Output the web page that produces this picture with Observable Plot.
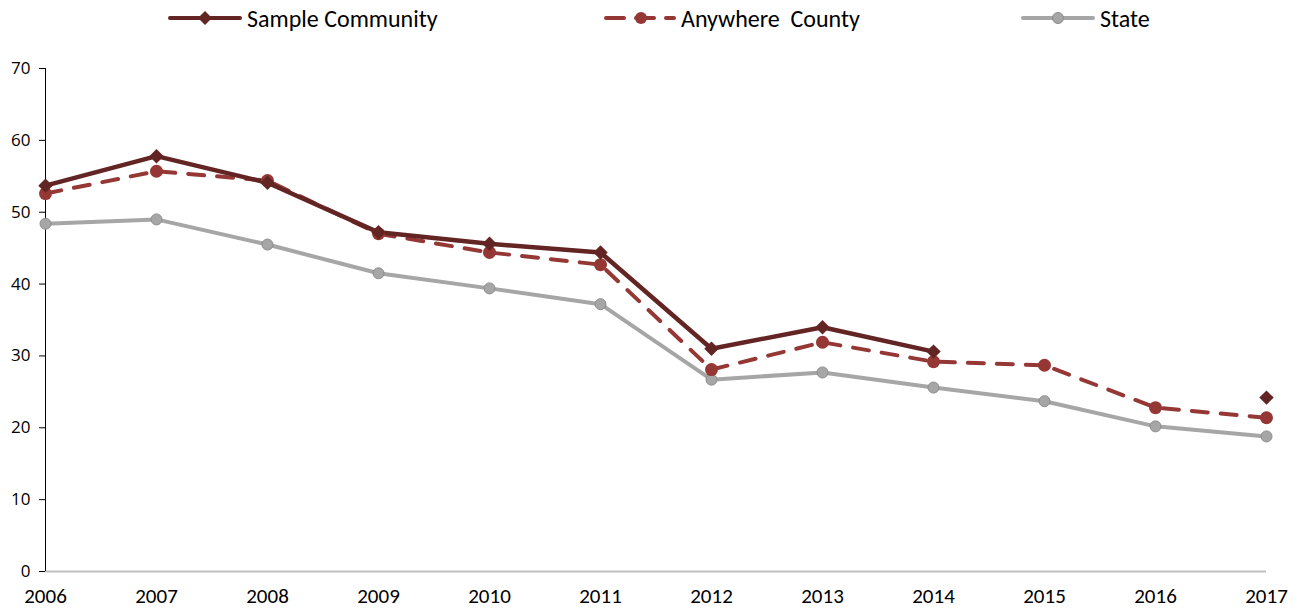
<!DOCTYPE html>
<html>
<head>
<meta charset="utf-8">
<script src="https://cdn.jsdelivr.net/npm/d3@7"></script>
<script src="https://cdn.jsdelivr.net/npm/@observablehq/plot@0.6"></script>
<style>
  html, body { margin: 0; padding: 0; background: #fff; }
  body { width: 1298px; height: 611px; overflow: hidden; font-family: Carlito, "Liberation Sans Narrow", "Open Sans", sans-serif; }
  #legend { position: relative; height: 40px; width: 1298px; }
  .item { position: absolute; top: 0; height: 36px; display: flex; align-items: center; font-size: 24px; color: #000; white-space: pre; }
  .item svg { margin-right: 5px; }
  .yax text { font-family: "Open Sans", sans-serif; }
</style>
</head>
<body>
<div id="legend"></div>
<div id="chart"></div>
<script>
const years = [2006, 2007, 2008, 2009, 2010, 2011, 2012, 2013, 2014, 2015, 2016, 2017];
const sampleCommunity = [53.7, 57.8, 54.1, 47.2, 45.6, 44.4, 31.0, 34.0, 30.6, null, null, 24.2];
const anywhereCounty  = [52.6, 55.7, 54.4, 47.0, 44.4, 42.7, 28.1, 31.9, 29.2, 28.7, 22.8, 21.4];
const state           = [48.4, 49.0, 45.5, 41.5, 39.4, 37.2, 26.7, 27.7, 25.6, 23.7, 20.2, 18.8];
const seriesNames = ["Sample Community", "Anywhere  County", "State"];
const yTicks = [0, 10, 20, 30, 40, 50, 60, 70];

const colors = {community: "#632523", county: "#953735", state: "#a6a6a6"};

const rows = (vals) => years.map((y, i) => ({year: y, value: vals[i] == null ? NaN : vals[i]}));
const comm = rows(sampleCommunity);
const cnty = rows(anywhereCounty);
const st = rows(state);

// Legend
const legend = document.getElementById("legend");
const legendItems = [
  {name: seriesNames[0], left: 168, kind: "community"},
  {name: seriesNames[1], left: 602, kind: "county"},
  {name: seriesNames[2], left: 1021, kind: "state"}
];
for (const it of legendItems) {
  const div = document.createElement("div");
  div.className = "item";
  div.style.left = it.left + "px";
  let sw = "";
  if (it.kind === "community") {
    sw = `<svg width="74" height="20"><line x1="2" y1="10" x2="72" y2="10" stroke="${colors.community}" stroke-width="4" stroke-linecap="round"/><path d="M37,3 L44,10 L37,17 L30,10 Z" fill="${colors.community}"/></svg>`;
  } else if (it.kind === "county") {
    sw = `<svg width="74" height="20"><line x1="4" y1="10" x2="72" y2="10" stroke="${colors.county}" stroke-width="4" stroke-dasharray="18,12" stroke-linecap="round"/><circle cx="39" cy="10" r="6" fill="${colors.county}"/></svg>`;
  } else {
    sw = `<svg width="74" height="20"><line x1="2" y1="10" x2="72" y2="10" stroke="${colors.state}" stroke-width="4" stroke-linecap="round"/><circle cx="37" cy="10" r="5.5" fill="${colors.state}" stroke="#8c8c8c" stroke-width="1"/></svg>`;
  }
  div.innerHTML = sw + `<span>${it.name}</span>`;
  legend.appendChild(div);
}

const chart = Plot.plot({
  width: 1298,
  height: 571,
  marginLeft: 45,
  marginRight: 32,
  marginTop: 28,
  marginBottom: 40,
  style: {fontFamily: 'Carlito, "Liberation Sans Narrow", "Open Sans", sans-serif', fontSize: "17px", color: "#000", background: "#fff"},
  x: {domain: [2006, 2017], ticks: years, tickFormat: "d", label: null},
  y: {domain: [0, 70], ticks: yTicks, label: null},
  marks: [
    Plot.ruleY([0], {stroke: "#bfbfbf", strokeWidth: 2}),
    Plot.ruleX([2006], {y1: 0, y2: 70, stroke: "#000", strokeWidth: 1}),
    Plot.axisY({ticks: yTicks, tickSize: 6, tickPadding: 9, stroke: "#000", label: null, fontSize: 17, className: "yax"}),
    Plot.axisX({ticks: years, tickFormat: "d", tickSize: 0, tickPadding: 17, label: null, fontSize: 21}),
    Plot.line(st, {x: "year", y: "value", stroke: colors.state, strokeWidth: 4}),
    Plot.line(cnty, {x: "year", y: "value", stroke: colors.county, strokeWidth: 4, strokeDasharray: "16,13", strokeLinecap: "round"}),
    Plot.line(comm, {x: "year", y: "value", stroke: colors.community, strokeWidth: 4.5}),
    Plot.dot(st, {x: "year", y: "value", r: 5.5, fill: colors.state, stroke: "#8c8c8c", strokeWidth: 1}),
    Plot.dot(cnty, {x: "year", y: "value", r: 6.5, fill: colors.county, stroke: "none"}),
    Plot.dot(comm, {x: "year", y: "value", symbol: "diamond2", r: 6.5, fill: colors.community, stroke: "none"})
  ]
});
document.getElementById("chart").appendChild(chart);
</script>
</body>
</html>
